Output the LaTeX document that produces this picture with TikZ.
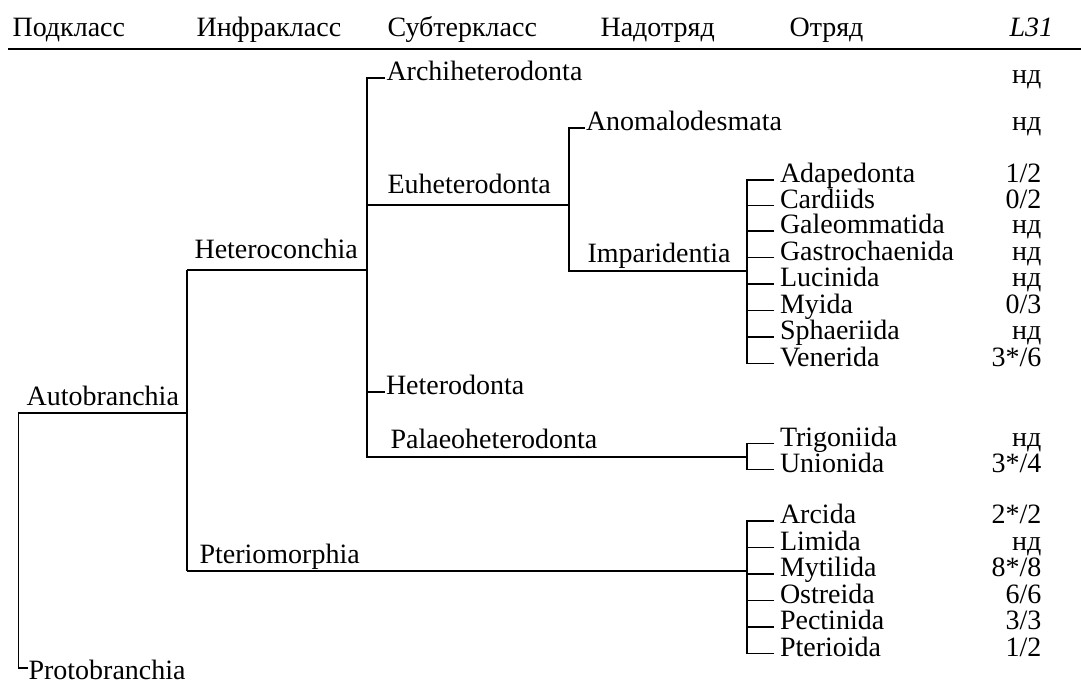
\documentclass[tikz,border=0pt]{standalone}
\usepackage{fontspec}
\setmainfont{Liberation Serif}
\begin{document}
\begin{tikzpicture}[x=1pt,y=-1pt,line width=1.1pt,font=\fontsize{28}{33}\selectfont,
  lab/.style={anchor=base west,inner sep=0pt},
  leaf/.style={anchor=west,inner sep=0pt,outer xsep=6pt,text height=0.7em,text depth=0.17em},
  num/.style={anchor=east,inner sep=0pt,text height=0.7em,text depth=0.17em}]
  \useasboundingbox (0,0) rectangle (1081,683);
  % header
  \node[lab] (hsubcl) at (12,36) {Подкласс};
  \node[lab] (hinfcl) at (196,36) {Инфракласс};
  \node[lab] (hsubt) at (387,36) {Субтеркласс};
  \node[lab] (hsupo) at (600,36) {Надотряд};
  \node[lab] (hord) at (789,36) {Отряд};
  \node[lab] (hlth) at (1009,36) {\itshape L31};
  \draw[line width=1.6pt] (8,49) -- (1081,49);
  % joints of the tree
  \coordinate (kroot) at (18.5,413); \coordinate (kauto) at (187,413);
  \coordinate (tproto) at (28,668);
  \coordinate (khet) at (187,270); \coordinate (khet2) at (367,270);
  \coordinate (kpte) at (187,571); \coordinate (kpte2) at (747,571);
  \coordinate (keu) at (367,205); \coordinate (keu2) at (569,205);
  \coordinate (kpal) at (367,457); \coordinate (kpal2) at (747,457);
  \coordinate (kimp) at (569,271); \coordinate (kimp2) at (747,271);
  % subclasses, infraclasses
  \node[lab] (auto) at (26,405) {Autobranchia};
  \node[lab] (proto) at (28,679) {Protobranchia};
  \node[lab] (hetc) at (194,258) {Heteroconchia};
  \node[lab] (pter) at (199,563) {Pteriomorphia};
  \draw (tproto) -| (kroot) -- (kauto);
  \draw (khet) -- (kpte);
  \draw (khet) -- (khet2);
  \draw (kpte) -- (kpte2);
  % subterclasses
  \node[leaf,outer xsep=1.5pt] (archi) at (385,78) {Archiheterodonta};
  \node[num] at (1042,81) {нд};
  \node[lab] (euhet) at (387,193) {Euheterodonta};
  \node[leaf,outer xsep=1pt] (hetd) at (385,392) {Heterodonta};
  \node[lab] (palae) at (390,448) {Palaeoheterodonta};
  \draw (archi.west) -| (kpal) -- (kpal2);
  \draw (keu) -- (keu2);
  \draw (hetd.west) -- (hetd.west -| kpal);
  % superorders
  \node[leaf,outer xsep=1pt] (anom) at (585,128) {Anomalodesmata};
  \node[num] at (1042,128) {нд};
  \node[lab] (impar) at (587,262) {Imparidentia};
  \draw (anom.west) -| (kimp) -- (kimp2);
  % orders
  \foreach \y/\t/\v [count=\i] in {180/Adapedonta/{1/2},205.5/Cardiids/{0/2},
      231/Galeommatida/нд,257.5/Gastrochaenida/нд,284/Lucinida/нд,
      310.5/Myida/{0/3},337/Sphaeriida/нд,363.5/Venerida/{3*/6}}{
    \node[leaf] (imp\i) at (774,\y) {\t};
    \node[num] at (1042,\y) {\v};
    \draw (imp\i.west) -- ++(-27,0);
  }
  \draw (imp1.west) -- ++(-27,0) |- (imp8.west);
  \foreach \y/\t/\v [count=\i] in {443.5/Trigoniida/нд,469.5/Unionida/{3*/4}}{
    \node[leaf] (pal\i) at (774,\y) {\t};
    \node[num] at (1042,\y) {\v};
  }
  \draw (pal1.west) -- ++(-27,0) |- (pal2.west);
  \foreach \y/\t/\v [count=\i] in {521/Arcida/{2*/2},547.5/Limida/нд,
      574/Mytilida/{8*/8},600.5/Ostreida/{6/6},627/Pectinida/{3/3},653.5/Pterioida/{1/2}}{
    \node[leaf] (ptr\i) at (774,\y) {\t};
    \node[num] at (1042,\y) {\v};
    \draw (ptr\i.west) -- ++(-27,0);
  }
  \draw (ptr1.west) -- ++(-27,0) |- (ptr6.west);
\end{tikzpicture}
\end{document}
